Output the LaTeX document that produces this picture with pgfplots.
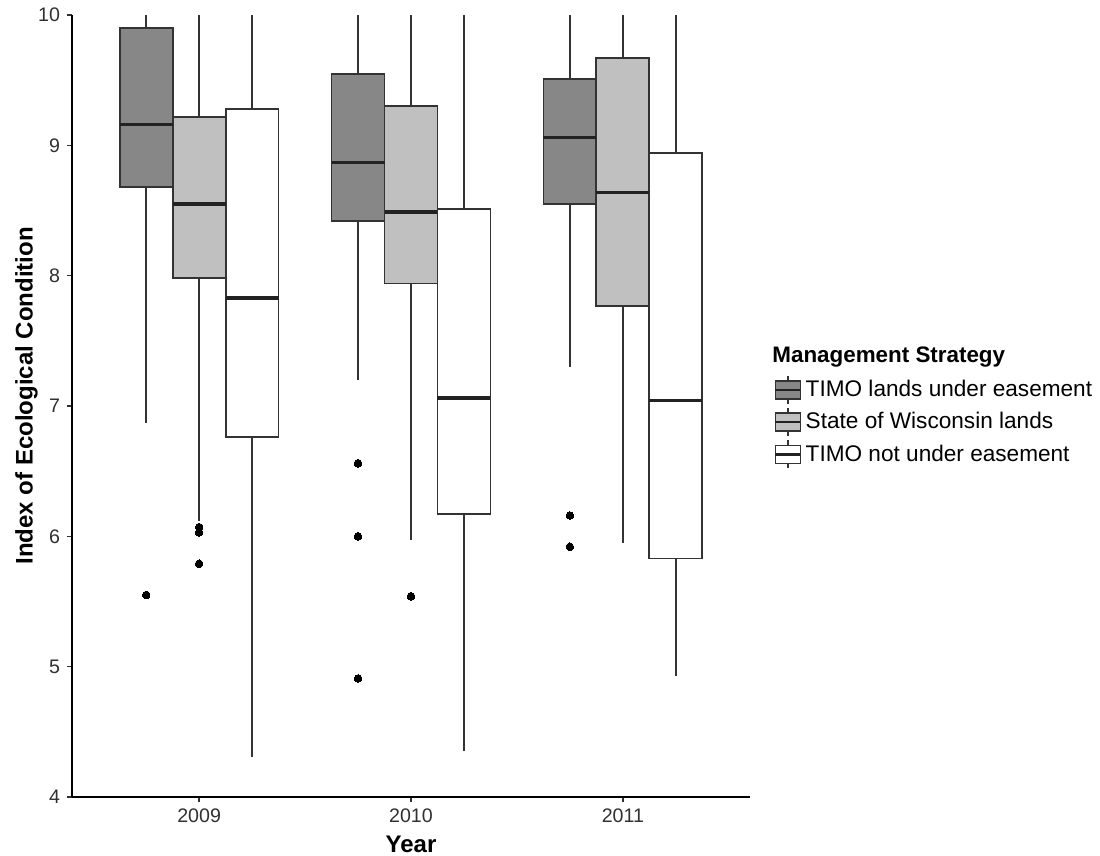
\documentclass[border=0pt]{standalone}
\usepackage{pgfplots}
\pgfplotsset{compat=1.18}
\usepackage{fontspec}
\setmainfont{Liberation Sans}
\definecolor{dkfill}{HTML}{878787}
\definecolor{ltfill}{HTML}{C0C0C0}
\definecolor{linec}{HTML}{333333}
\definecolor{medc}{HTML}{222222}
\definecolor{tickc}{HTML}{303030}
\pgfplotsset{
  boxpoly/.style={draw=linec, line width=0.9pt, fill=#1, line join=miter, mark=none, forget plot},
  whisk/.style={draw=linec, line width=0.7pt, mark=none, forget plot, unbounded coords=jump},
  medl/.style={draw=medc, line width=1.7pt, mark=none, forget plot, unbounded coords=jump},
  outl/.style={only marks, mark=*, mark size=1.9pt, mark options={fill=black, draw=black, line width=0pt}, forget plot},
  boxleg/.style={legend image code/.code={
      \draw[draw=linec, line width=0.7pt] (6.25pt,-7pt) -- (6.25pt,7pt);
      \draw[draw=linec, line width=0.9pt, fill=#1] (0pt,-4.5pt) rectangle (12.5pt,4.5pt);
      \draw[draw=medc, line width=1.3pt] (0pt,0pt) -- (12.5pt,0pt);
  }},
}
\begin{document}
\begin{tikzpicture}
\begin{axis}[
  scale only axis,
  width=339pt, height=391pt,
  xmin=0.4, xmax=3.6, ymin=4, ymax=10,
  axis lines=left,
  axis line style={-, line width=0.9pt, black},
  xtick={1,2,3}, xticklabels={2009,2010,2011},
  ytick={4,5,6,7,8,9,10},
  tick align=outside, major tick length=2.5pt,
  tick style={line width=0.7pt, tickc},
  /pgf/number format/assume math mode=true,
  ticklabel style={font=\fontsize{9.8}{11}\selectfont, text=tickc},
  xlabel={\textbf{Year}}, ylabel={\textbf{Index of Ecological Condition}},
  label style={font=\fontsize{12}{14}\selectfont, inner sep=0pt},
  xlabel style={at={(axis description cs:0.5,0)}, anchor=north, yshift=-19.5pt},
  ylabel style={at={(axis description cs:-0.05,0.513)}, anchor=south},
  legend style={at={(axis description cs:1.035,0.540)}, anchor=north west,
    draw=none, fill=none, inner sep=0pt, row sep=1.45pt,
    font=\fontsize{11.3}{13}\selectfont},
  legend cell align=left,
]
% legend entries
\addlegendimage{boxleg=dkfill}
\addlegendentry{TIMO lands under easement}
\addlegendimage{boxleg=ltfill}
\addlegendentry{State of Wisconsin lands}
\addlegendimage{boxleg=white}
\addlegendentry{TIMO not under easement}

% whiskers (lower whisker end to upper whisker end, box drawn on top)
\addplot[whisk] coordinates {
 (0.75,6.87) (0.75,10) (nan,nan)
 (1.00,6.12) (1.00,10) (nan,nan)
 (1.25,4.31) (1.25,10) (nan,nan)
 (1.75,7.20) (1.75,10) (nan,nan)
 (2.00,5.97) (2.00,10) (nan,nan)
 (2.25,4.35) (2.25,10) (nan,nan)
 (2.75,7.30) (2.75,10) (nan,nan)
 (3.00,5.95) (3.00,10) (nan,nan)
 (3.25,4.93) (3.25,10)
};

% boxes: TIMO lands under easement
\addplot[boxpoly=dkfill] coordinates {(0.625,8.68) (0.875,8.68) (0.875,9.90) (0.625,9.90)} -- cycle;
\addplot[boxpoly=dkfill] coordinates {(1.625,8.42) (1.875,8.42) (1.875,9.55) (1.625,9.55)} -- cycle;
\addplot[boxpoly=dkfill] coordinates {(2.625,8.55) (2.875,8.55) (2.875,9.51) (2.625,9.51)} -- cycle;
% boxes: State of Wisconsin lands
\addplot[boxpoly=ltfill] coordinates {(0.875,7.98) (1.125,7.98) (1.125,9.22) (0.875,9.22)} -- cycle;
\addplot[boxpoly=ltfill] coordinates {(1.875,7.94) (2.125,7.94) (2.125,9.30) (1.875,9.30)} -- cycle;
\addplot[boxpoly=ltfill] coordinates {(2.875,7.77) (3.125,7.77) (3.125,9.67) (2.875,9.67)} -- cycle;
% boxes: TIMO not under easement
\addplot[boxpoly=white] coordinates {(1.125,6.76) (1.375,6.76) (1.375,9.28) (1.125,9.28)} -- cycle;
\addplot[boxpoly=white] coordinates {(2.125,6.17) (2.375,6.17) (2.375,8.51) (2.125,8.51)} -- cycle;
\addplot[boxpoly=white] coordinates {(3.125,5.83) (3.375,5.83) (3.375,8.94) (3.125,8.94)} -- cycle;

% medians
\addplot[medl] coordinates {
 (0.625,9.16) (0.875,9.16) (nan,nan)
 (0.875,8.55) (1.125,8.55) (nan,nan)
 (1.125,7.83) (1.375,7.83) (nan,nan)
 (1.625,8.87) (1.875,8.87) (nan,nan)
 (1.875,8.49) (2.125,8.49) (nan,nan)
 (2.125,7.06) (2.375,7.06) (nan,nan)
 (2.625,9.06) (2.875,9.06) (nan,nan)
 (2.875,8.64) (3.125,8.64) (nan,nan)
 (3.125,7.04) (3.375,7.04)
};

% outliers
\addplot[outl] coordinates {
 (0.75,5.55) (1.75,6.56) (1.75,6.00) (1.75,4.91) (2.75,6.16) (2.75,5.92)
 (1.00,6.07) (1.00,6.03) (1.00,5.79) (2.00,5.54)
};
\end{axis}
\node[anchor=west, inner sep=0pt, font=\fontsize{11.2}{13}\selectfont\bfseries]
  at ([xshift=350pt, yshift=220pt]current axis.south west) {Management Strategy};
\path ([xshift=-36pt, yshift=-29.5pt]current axis.south west) rectangle ++(550pt,428pt);
\end{tikzpicture}
\end{document}
